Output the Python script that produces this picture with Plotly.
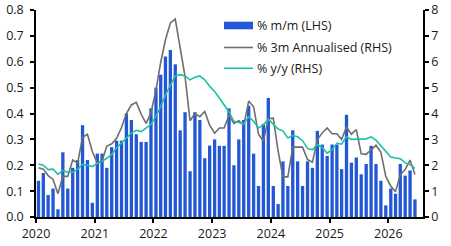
import plotly.graph_objects as go

# Months Jan-2020 .. Jun-2026
years = [2020, 2021, 2022, 2023, 2024, 2025, 2026]
months = [f"{y}-{m:02d}" for y in years for m in range(1, 13)][:78]

mom = [
    0.14, 0.17, 0.085, 0.11, 0.03, 0.25, 0.11, 0.19, 0.22, 0.355, 0.22, 0.055,
    0.245, 0.245, 0.19, 0.27, 0.295, 0.295, 0.40, 0.375, 0.32, 0.29, 0.29, 0.42,
    0.50, 0.55, 0.62, 0.645, 0.59, 0.335, 0.405, 0.177, 0.405, 0.375, 0.227, 0.276,
    0.30, 0.275, 0.275, 0.42, 0.20, 0.30, 0.375, 0.43, 0.245, 0.12, 0.36, 0.46,
    0.12, 0.05, 0.215, 0.12, 0.335, 0.215, 0.12, 0.215, 0.19, 0.333, 0.28, 0.236,
    0.28, 0.28, 0.185, 0.395, 0.21, 0.23, 0.165, 0.205, 0.275, 0.205, 0.14, 0.045,
    0.11, 0.09, 0.205, 0.16, 0.18, 0.068,
]

ann3m = [
    1.9, 1.85, 1.6, 1.45, 0.9, 1.57, 1.57, 2.2, 2.08, 3.08, 3.2, 2.53,
    2.08, 2.18, 2.73, 2.83, 3.04, 3.46, 4.0, 4.33, 4.43, 3.97, 3.62, 4.03,
    4.9, 5.98, 6.85, 7.5, 7.65, 6.45, 5.43, 3.72, 4.0, 3.88, 4.08, 3.55,
    3.24, 3.44, 3.44, 3.93, 3.62, 3.72, 3.54, 4.48, 4.26, 3.2, 2.93, 3.8,
    3.82, 2.55, 1.55, 1.55, 2.7, 2.7, 2.7, 2.22, 2.12, 2.98, 3.25, 3.44,
    3.22, 3.22, 3.0, 3.48, 3.2, 3.38, 2.44, 2.42, 2.6, 2.77, 2.5, 1.57,
    1.19, 0.98, 1.63, 1.83, 2.2, 1.64,
]

yoy = [
    2.05, 2.0, 1.83, 1.85, 1.65, 1.8, 1.73, 1.73, 1.85, 2.03, 2.0, 1.95,
    2.07, 2.15, 2.27, 2.42, 2.68, 2.85, 3.05, 3.25, 3.35, 3.3, 3.45, 3.58,
    3.9, 4.27, 4.72, 5.1, 5.45, 5.5, 5.45, 5.3, 5.4, 5.45, 5.3, 5.05,
    4.85, 4.6, 4.33, 4.06, 3.7, 3.65, 3.6, 3.88, 3.7, 3.44, 3.56, 3.78,
    3.6, 3.4, 3.33, 3.05, 3.15, 3.1, 2.95, 2.65, 2.6, 2.8, 2.68, 2.47,
    2.6, 2.85, 2.82, 3.1, 3.0, 3.0, 3.02, 3.02, 3.1, 2.97, 2.75, 2.55,
    2.32, 2.28, 2.25, 2.1, 2.02, 1.88,
]

left_ticks = [0.0, 0.1, 0.2, 0.3, 0.4, 0.5, 0.6, 0.7, 0.8]
right_ticks = [0, 1, 2, 3, 4, 5, 6, 7, 8]
year_ticks = [f"{y}-01-01" for y in years]
year_labels = [str(y) for y in years]

legend_labels = ["% m/m (LHS)", "% 3m Annualised (RHS)", "% y/y (RHS)"]

BLUE = "#2358D5"
GREY = "#6E6E6E"
TEAL = "#1DBFA6"
FONT = "Open Sans"

fig = go.Figure()
fig.add_trace(go.Bar(x=months, y=mom, marker=dict(color=BLUE, line=dict(width=0)),
                     xperiod="M1", xperiodalignment="middle", name=legend_labels[0]))
fig.add_trace(go.Scatter(x=months, y=ann3m, mode="lines", line=dict(color=GREY, width=1.6),
                         xperiod="M1", xperiodalignment="middle", yaxis="y2", name=legend_labels[1]))
fig.add_trace(go.Scatter(x=months, y=yoy, mode="lines", line=dict(color=TEAL, width=1.6),
                         xperiod="M1", xperiodalignment="middle", yaxis="y2", name=legend_labels[2]))

axis_common = dict(showgrid=False, zeroline=False, showline=True, linecolor="#000",
                   linewidth=1.5, ticks="outside", ticklen=4, tickcolor="#000", tickwidth=1.5,
                   automargin=False,
                   tickfont=dict(family=FONT, size=12.5, color="#1a1a1a"))

fig.update_layout(
    width=451, height=246,
    margin=dict(l=36, r=28, t=10, b=29, autoexpand=False),
    paper_bgcolor="white", plot_bgcolor="white",
    showlegend=False, bargap=0.3,
    xaxis=dict(type="date", range=["2020-01-01", "2026-08-05"],
               tickvals=year_ticks, ticktext=year_labels, **axis_common),
    yaxis=dict(range=[0, 0.8], tickvals=left_ticks, ticktext=[f"{v:.1f}" for v in left_ticks],
               ticklabelstandoff=4, **axis_common),
    yaxis2=dict(range=[0, 8], tickvals=right_ticks, overlaying="y", side="right", **axis_common),
    font=dict(family=FONT),
)

# manual legend (paper coordinates)
def px_x(p):
    return (p - 36) / 387.0

def px_y(p):
    return (217.0 - p) / 207.0

rows = [25.5, 47.5, 68.3]
fig.add_shape(type="rect", xref="paper", yref="paper", x0=px_x(224), x1=px_x(253),
              y0=px_y(29.3), y1=px_y(21.7), fillcolor=BLUE, line=dict(width=0))
fig.add_shape(type="line", xref="paper", yref="paper", x0=px_x(224), x1=px_x(253),
              y0=px_y(rows[1]), y1=px_y(rows[1]), line=dict(color=GREY, width=1.6))
fig.add_shape(type="line", xref="paper", yref="paper", x0=px_x(224), x1=px_x(253),
              y0=px_y(rows[2]), y1=px_y(rows[2]), line=dict(color=TEAL, width=1.6))
for lbl, r in zip(legend_labels, rows):
    fig.add_annotation(xref="paper", yref="paper", x=px_x(255), y=px_y(r), text=lbl,
                       showarrow=False, xanchor="left", yanchor="middle",
                       font=dict(family=FONT, size=12.5, color="#1a1a1a"))

fig.write_html("out.html")
